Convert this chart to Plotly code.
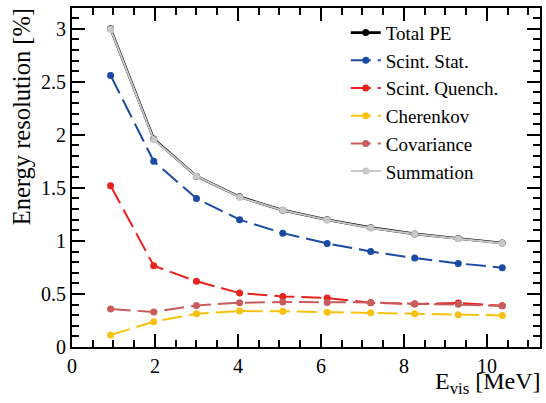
import plotly.graph_objects as go

E_vis = [0.93, 1.97, 3.0, 4.04, 5.08, 6.15, 7.2, 8.26, 9.31, 10.37]
total_pe = [3.0, 1.96, 1.61, 1.415, 1.29, 1.20, 1.125, 1.066, 1.022, 0.98]
scint_stat = [2.56, 1.75, 1.40, 1.20, 1.073, 0.976, 0.90, 0.838, 0.788, 0.748]
scint_quench = [1.52, 0.766, 0.619, 0.508, 0.477, 0.461, 0.417, 0.405, 0.414, 0.389]
cherenkov = [0.113, 0.238, 0.314, 0.339, 0.336, 0.327, 0.323, 0.314, 0.304, 0.298]
covariance = [0.358, 0.33, 0.392, 0.417, 0.424, 0.42, 0.42, 0.408, 0.402, 0.389]
summation = [2.995, 1.955, 1.61, 1.412, 1.288, 1.198, 1.122, 1.064, 1.02, 0.978]

FONT = "'Liberation Serif', 'Times New Roman', serif"
series = [
    ("Total PE", total_pe, "#000000", "solid", 2.6),
    ("Scint. Stat.", scint_stat, "#1b4aa3", "20px,7px", 2),
    ("Scint. Quench.", scint_quench, "#e8221c", "20px,7px", 2),
    ("Cherenkov", cherenkov, "#f7c20f", "20px,7px", 2),
    ("Covariance", covariance, "#c85c5c", "20px,7px", 2),
    ("Summation", summation, "#c8c8c8", "solid", 2),
]

fig = go.Figure()
for name, vals, col, dash, w in series:
    fig.add_trace(go.Scatter(
        x=E_vis, y=vals, name=name, mode="lines+markers",
        line=dict(color=col, width=w, dash=dash),
        marker=dict(color=col, size=7, symbol="circle"),
    ))

axis_common = dict(
    showline=True, linecolor="black", linewidth=2, mirror="allticks",
    ticks="inside", tickcolor="black", tickwidth=2, ticklen=13,
    showgrid=False, zeroline=False,
    tickfont=dict(family=FONT, size=20, color="black"),
)
fig.update_xaxes(range=[0, 11.28], dtick=2, tick0=0,
                 minor=dict(dtick=0.5, ticks="inside", ticklen=7, tickwidth=2, tickcolor="black"),
                 **axis_common)
fig.update_yaxes(range=[0, 3.195], dtick=0.5, tick0=0,
                 minor=dict(dtick=0.1, ticks="inside", ticklen=7, tickwidth=2, tickcolor="black"),
                 **axis_common)

fig.update_layout(
    width=546, height=403,
    margin=dict(l=72, r=4, t=8, b=56),
    paper_bgcolor="white", plot_bgcolor="white",
    font=dict(family=FONT, color="black"),
    showlegend=True,
    legend=dict(x=0.585, y=0.983, xanchor="left", yanchor="top",
                bgcolor="rgba(0,0,0,0)", font=dict(family=FONT, size=19),
                itemwidth=30, tracegroupgap=0),
    annotations=[
        dict(text="Energy resolution [%]", textangle=-90, xref="paper", yref="paper",
             x=-0.108, y=1.005, xanchor="center", yanchor="top", showarrow=False,
             font=dict(family=FONT, size=24.5, color="black")),
        dict(text="E<sub>vis</sub> [MeV]", xref="paper", yref="paper",
             x=1.005, y=-0.058, xanchor="right", yanchor="top", showarrow=False,
             borderpad=0, font=dict(family=FONT, size=24, color="black")),
    ],
)
fig.write_html("out.html")
